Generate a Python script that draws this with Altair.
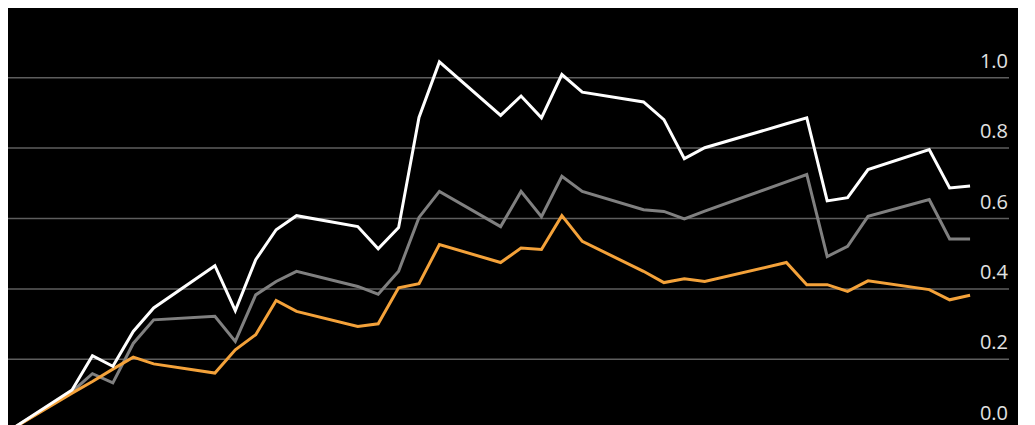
import altair as alt
import pandas as pd

# Trading days (x positions); no x axis is visible in the reference
dates = [
    "2024-02-23", "2024-02-26", "2024-02-27", "2024-02-28", "2024-02-29", "2024-03-01",
    "2024-03-04", "2024-03-05", "2024-03-06", "2024-03-07", "2024-03-08",
    "2024-03-11", "2024-03-12", "2024-03-13", "2024-03-14", "2024-03-15",
    "2024-03-18", "2024-03-19", "2024-03-20", "2024-03-21", "2024-03-22",
    "2024-03-25", "2024-03-26", "2024-03-27", "2024-03-28",
    "2024-04-01", "2024-04-02", "2024-04-03", "2024-04-04", "2024-04-05",
    "2024-04-08", "2024-04-09", "2024-04-10",
]

white_vals = [
    0.0, 0.113, 0.210, 0.180, 0.279, 0.346,
    0.466, 0.338, 0.483, 0.568, 0.608,
    0.577, 0.514, 0.574, 0.887, 1.045,
    0.893, 0.948, 0.886, 1.009, 0.959,
    0.931, 0.881, 0.770, 0.801,
    0.869, 0.886, 0.650, 0.659, 0.739,
    0.796, 0.687, 0.692,
]

gray_vals = [
    0.0, 0.108, 0.159, 0.133, 0.245, 0.312,
    0.322, 0.251, 0.383, 0.421, 0.450,
    0.407, 0.385, 0.450, 0.603, 0.677,
    0.577, 0.677, 0.605, 0.720, 0.677,
    0.625, 0.620, 0.599, 0.621,
    0.704, 0.725, 0.492, 0.521, 0.606,
    0.654, 0.542, 0.542,
]

orange_vals = [
    0.0, 0.104, 0.137, 0.172, 0.206, 0.187,
    0.161, 0.227, 0.270, 0.367, 0.336,
    0.293, 0.301, 0.403, 0.415, 0.526,
    0.475, 0.516, 0.512, 0.608, 0.535,
    0.450, 0.418, 0.429, 0.421,
    0.475, 0.412, 0.412, 0.393, 0.423,
    0.398, 0.369, 0.382,
]

series_names = ["Gray", "Orange", "White"]
series_colors = ["#808080", "#f4a23a", "#ffffff"]

grid_values = [0.0, 0.2, 0.4, 0.6, 0.8, 1.0, 1.2]
tick_values = [0.0, 0.2, 0.4, 0.6, 0.8, 1.0]
tick_labels = ["0.0", "0.2", "0.4", "0.6", "0.8", "1.0"]

# ---- build tables ----
rows = []
for name, vals in zip(["White", "Gray", "Orange"], [white_vals, gray_vals, orange_vals]):
    for d, v in zip(dates, vals):
        rows.append({"date": d, "value": v, "series": name})
df = pd.DataFrame(rows)
grid_df = pd.DataFrame({"v": grid_values})
ticks_df = pd.DataFrame({"v": tick_values, "label": tick_labels})

W, H = 1010, 417

# x scale: visible window slightly before first day to ~49 days later
day_ms = 86400000
base_ms = int(pd.Timestamp("2024-02-23", tz="UTC").value // 1_000_000)
x_dom = [base_ms - 0.137 * day_ms, base_ms + (-0.137 + W / 20.41) * day_ms]
xscale = alt.Scale(type="utc", domain=x_dom)

# y scale: 352 px per unit, 0 sits just below the visible window
px_per_unit = 352.0
zero_y = 421.7
y_dom = [(zero_y - H) / px_per_unit, zero_y / px_per_unit]
yscale = alt.Scale(domain=y_dom, zero=False, nice=False)

grid = alt.Chart(grid_df).mark_rule(color="#5e5e5e", strokeWidth=1.5).encode(
    y=alt.Y("v:Q", scale=yscale, axis=None),
    x=alt.value(0),
    x2=alt.value(1001),
)

labels = alt.Chart(ticks_df).mark_text(
    align="right", baseline="alphabetic", dy=-10,
    font="Open Sans", fontSize=20, color="#e2e2e2",
).encode(
    y=alt.Y("v:Q", scale=yscale, axis=None),
    x=alt.value(1000),
    text="label:N",
)

line_layers = []
for name, col in zip(series_names, series_colors):
    line_layers.append(
        alt.Chart(df)
        .transform_filter(alt.datum.series == name)
        .mark_line(color=col, strokeWidth=3, clip=True, strokeJoin="miter")
        .encode(
            x=alt.X("date:T", scale=xscale, axis=None),
            y=alt.Y("value:Q", scale=yscale, axis=None),
        )
    )

chart = (
    alt.layer(grid, labels, *line_layers)
    .properties(width=W, height=H, background="#000000", padding=0, autosize="none")
    .configure_view(stroke=None)
)

chart.save("out.html", embed_options={"renderer": "svg", "actions": False})
